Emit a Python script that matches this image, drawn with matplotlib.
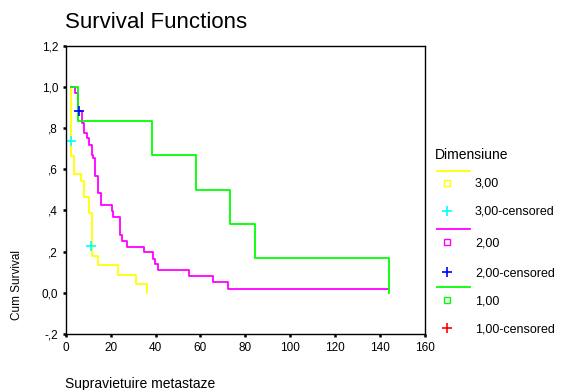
import matplotlib
matplotlib.use('Agg')
import matplotlib.pyplot as plt
from matplotlib.lines import Line2D

plt.rcParams['font.family'] = ['Liberation Sans', 'DejaVu Sans']

# survival curves (time in months, cum survival)
start_time = 2.4

g3_times = [2.4, 3.6, 6.7, 8.2, 10.4, 11.6, 14.3, 23.4, 31.2, 36.3]
g3_surv = [0.662, 0.576, 0.541, 0.464, 0.387, 0.180, 0.135, 0.087, 0.042, 0.0]
g3_cens_t = [2.4, 11.3]
g3_cens_s = [0.735, 0.226]

g2_times = [4.1, 5.3, 7.4, 8.3, 9.4, 10.5, 11.6, 12.3, 13.1, 14.2, 15.9, 20.5,
            21.1, 24.3, 25.2, 27.2, 35.0, 39.0, 39.8, 41.2, 55.1, 65.5, 72.2]
g2_surv = [0.970, 0.881, 0.824, 0.776, 0.751, 0.719, 0.670, 0.654, 0.566, 0.484,
           0.426, 0.396, 0.369, 0.283, 0.253, 0.222, 0.196, 0.164, 0.141, 0.109,
           0.084, 0.052, 0.020]
g2_end = 144.0
g2_cens_t = [6.1]
g2_cens_s = [0.884]

g1_times = [5.3, 38.3, 58.0, 73.2, 84.5, 144.0]
g1_surv = [0.833, 0.667, 0.5, 0.333, 0.167, 0.0]

yticks = [-0.2, 0.0, 0.2, 0.4, 0.6, 0.8, 1.0, 1.2]
ytick_labels = ['-,2', '0,0', ',2', ',4', ',6', ',8', '1,0', '1,2']
xticks = [0, 20, 40, 60, 80, 100, 120, 140, 160]

W, H = 568, 390


def px(x, y):
    return x / W, 1 - y / H


fig = plt.figure(figsize=(W / 100, H / 100), dpi=100)
ax = fig.add_axes([65.7 / W, 1 - 334 / H, (425 - 65.7) / W, (334 - 45.7) / H])

ax.step([start_time] + g3_times, [1.0] + g3_surv, where='post', color='#ffff00', lw=1.3)
ax.step([start_time] + g2_times + [g2_end], [1.0] + g2_surv + [g2_surv[-1]],
        where='post', color='#ff00ff', lw=1.3)
ax.step([start_time] + g1_times, [1.0] + g1_surv, where='post', color='#00ff00', lw=1.3)

ax.plot(g3_cens_t, g3_cens_s, ls='none', marker='+', ms=7, mew=1.2, color='#00ffff')
ax.plot(g2_cens_t, g2_cens_s, ls='none', marker='+', ms=7, mew=1.2, color='#0000ff')

ax.set_xlim(0, 160)
ax.set_ylim(-0.2, 1.2)
ax.set_xticks(xticks)
ax.set_yticks(yticks)
ax.set_yticklabels(ytick_labels)
ax.tick_params(direction='out', length=2.5, width=1.8, labelsize=8.5, pad=3)
for s in ax.spines.values():
    s.set_linewidth(1.0)

fig.text(*px(65, 28), 'Survival Functions', fontsize=16, va='baseline', ha='left')
fig.text(*px(17, 285), 'Cum Survival', fontsize=8.5, rotation=90, ha='center', va='center')
fig.text(*px(65, 388), 'Supravietuire metastaze', fontsize=10, va='baseline', ha='left')

# legend drawn by hand to keep the SPSS layout
fig.text(*px(435, 155), 'Dimensiune', fontsize=10, va='center', ha='left')
legend_rows = [
    ('#ffff00', 171, '#ffff00', 183, '3,00', '#00ffff', 211, '3,00-censored'),
    ('#ff00ff', 229, '#ff00ff', 242, '2,00', '#0000ff', 272, '2,00-censored'),
    ('#00ff00', 287, '#00ff00', 300, '1,00', '#ff0000', 328, '1,00-censored'),
]
for lc, ly, sc, sy, slab, cc, cy, clab in legend_rows:
    fig.add_artist(Line2D([436.5 / W, 470 / W], [1 - ly / H, 1 - ly / H], color=lc, lw=1.3))
    fig.add_artist(Line2D([446.7 / W], [1 - sy / H], marker='s', ms=4, mfc='none',
                          mec=sc, mew=1.0, ls='none'))
    fig.text(*px(475, sy + 1), slab, fontsize=9, va='center', ha='left')
    fig.add_artist(Line2D([446.7 / W], [1 - cy / H], marker='+', ms=7, mew=1.2,
                          color=cc, ls='none'))
    fig.text(*px(475, cy + 1), clab, fontsize=9, va='center', ha='left')

fig.savefig('out.png', dpi=100)
